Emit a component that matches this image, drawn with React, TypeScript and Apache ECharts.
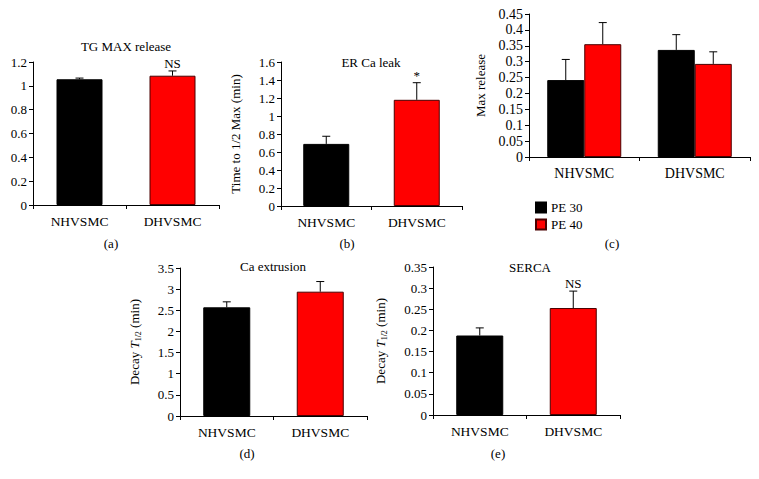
import React, { useEffect, useRef } from "react";
import * as echarts from "echarts";

const categories = ["NHVSMC", "DHVSMC"];
const tgMaxRelease = [1.055, 1.085];
const tgMaxReleaseErr = [0.01, 0.04];
const erCaLeak = [0.69, 1.18];
const erCaLeakErr = [0.085, 0.19];
const maxReleasePE30 = [0.242, 0.337];
const maxReleasePE30Err = [0.065, 0.048];
const maxReleasePE40 = [0.355, 0.293];
const maxReleasePE40Err = [0.068, 0.038];
const caExtrusion = [2.57, 2.94];
const caExtrusionErr = [0.13, 0.24];
const serca = [0.188, 0.253];
const sercaErr = [0.018, 0.04];
const sigA = ["", "NS"];
const sigB = ["", "*"];
const sigE = ["", "NS"];
const legendNames = ["PE 30", "PE 40"];

const FONT = "Liberation Serif";
const BLACK = "#000000";
const RED = "#ff0000";
const RED_BORDER = "#4a0000";

function errSeries(gi: number, vals: number[], errs: number[], offset: number, sig?: string[]) {
  return {
    type: "custom",
    xAxisIndex: gi,
    yAxisIndex: gi,
    z: 5,
    encode: { x: 0, y: [1, 2] },
    data: vals.map((v, i) => [i, v, v + errs[i]]),
    renderItem: (params: any, api: any) => {
      const x = api.value(0);
      const base = api.coord([x, api.value(1)]);
      const top = api.coord([x, api.value(2)]);
      const cx = base[0] + offset;
      const children: any[] = [
        { type: "line", shape: { x1: cx, y1: base[1], x2: cx, y2: top[1] }, style: { stroke: "#000", lineWidth: 1 } },
        { type: "line", shape: { x1: cx - 4, y1: top[1], x2: cx + 4, y2: top[1] }, style: { stroke: "#000", lineWidth: 1 } },
      ];
      const s = sig ? sig[params.dataIndex] : "";
      if (s) {
        children.push({
          type: "text",
          style: {
            text: s,
            x: cx,
            y: top[1] - 1,
            align: "center",
            verticalAlign: "bottom",
            fontSize: 13,
            fontFamily: FONT,
            fill: "#000",
          },
        });
      }
      return { type: "group", children };
    },
  };
}

function colored(vals: number[]) {
  return vals.map((v, i) => ({
    value: v,
    itemStyle: i === 0 ? { color: BLACK, borderColor: BLACK, borderWidth: 1 } : { color: RED, borderColor: RED_BORDER, borderWidth: 1 },
  }));
}

export default function App() {
  const ref = useRef<HTMLDivElement>(null);
  useEffect(() => {
    if (!ref.current) return;
    const chart = echarts.init(ref.current, null, { renderer: "svg" });
    const grids = [
      { left: 33, top: 62, width: 186, height: 143 },
      { left: 281, top: 62, width: 181, height: 144 },
      { left: 529, top: 14, width: 221, height: 143 },
      { left: 180, top: 268, width: 187, height: 148 },
      { left: 433, top: 267, width: 187, height: 148 },
    ];
    const yCfg = [
      { max: 1.2, interval: 0.2, name: "", gap: 0, fs: 13, cs: 13.5 },
      { max: 1.6, interval: 0.2, name: "Time to 1/2 Max (min)", gap: 39, fs: 13, cs: 13.5 },
      { max: 0.45, interval: 0.05, name: "Max release", gap: 42, fs: 14, cs: 14 },
      { max: 3.5, interval: 0.5, name: "{a|Decay }{b|T}{c|1/2}{a| (min)}", gap: 38, fs: 13, cs: 13.5 },
      { max: 0.35, interval: 0.05, name: "{a|Decay }{b|T}{c|1/2}{a| (min)}", gap: 45, fs: 13, cs: 13.5 },
    ];
    const richName = {
      a: { fontSize: 13, fontFamily: FONT, color: "#000", lineHeight: 16, verticalAlign: "middle" },
      b: { fontSize: 13, fontFamily: FONT, fontStyle: "italic", color: "#000", lineHeight: 16, verticalAlign: "middle" },
      c: { fontSize: 8, fontFamily: FONT, color: "#000", lineHeight: 16, verticalAlign: "bottom" },
    };
    const xAxis = grids.map((_, i) => ({
      type: "category",
      gridIndex: i,
      data: categories,
      axisLine: { show: true, lineStyle: { color: "#000", width: 1 } },
      axisTick: { show: true, length: 4, alignWithLabel: false, lineStyle: { color: "#000" } },
      axisLabel: { color: "#000", fontFamily: FONT, fontSize: yCfg[i].cs, margin: 9 },
    }));
    const yAxis = yCfg.map((c, i) => ({
      type: "value",
      gridIndex: i,
      min: 0,
      max: c.max,
      interval: c.interval,
      name: c.name,
      nameLocation: "middle",
      nameGap: c.gap,
      nameRotate: 90,
      nameTextStyle: { fontFamily: FONT, fontSize: 13, color: "#000", rich: richName },
      splitLine: { show: false },
      axisLine: { show: true, lineStyle: { color: "#000", width: 1 } },
      axisTick: { show: true, length: 4, lineStyle: { color: "#000" } },
      axisLabel: {
        color: "#000",
        fontFamily: FONT,
        fontSize: c.fs,
        margin: 6,
        formatter: (v: number) => String(+v.toFixed(2)),
      },
    }));
    const cBarW = 37;
    const series: any[] = [
      { type: "bar", name: "a", xAxisIndex: 0, yAxisIndex: 0, barWidth: 46, data: colored(tgMaxRelease) },
      errSeries(0, tgMaxRelease, tgMaxReleaseErr, 0, sigA),
      { type: "bar", name: "b", xAxisIndex: 1, yAxisIndex: 1, barWidth: 46, data: colored(erCaLeak) },
      errSeries(1, erCaLeak, erCaLeakErr, 0, sigB),
      {
        type: "bar",
        name: legendNames[0],
        xAxisIndex: 2,
        yAxisIndex: 2,
        barWidth: cBarW,
        barGap: "0%",
        itemStyle: { color: BLACK, borderColor: BLACK, borderWidth: 1 },
        data: maxReleasePE30,
      },
      {
        type: "bar",
        name: legendNames[1],
        xAxisIndex: 2,
        yAxisIndex: 2,
        barWidth: cBarW,
        barGap: "0%",
        itemStyle: { color: RED, borderColor: RED_BORDER, borderWidth: 1 },
        data: maxReleasePE40,
      },
      errSeries(2, maxReleasePE30, maxReleasePE30Err, -cBarW / 2),
      errSeries(2, maxReleasePE40, maxReleasePE40Err, cBarW / 2),
      { type: "bar", name: "d", xAxisIndex: 3, yAxisIndex: 3, barWidth: 47, data: colored(caExtrusion) },
      errSeries(3, caExtrusion, caExtrusionErr, 0),
      { type: "bar", name: "e", xAxisIndex: 4, yAxisIndex: 4, barWidth: 47, data: colored(serca) },
      errSeries(4, serca, sercaErr, 0, sigE),
    ];
    const txt = (text: string, x: number, y: number, size = 13) => ({
      type: "text",
      x,
      y,
      style: { text, fontFamily: FONT, fontSize: size, fill: "#000", align: "center", verticalAlign: "middle" },
    });
    chart.setOption({
      animation: false,
      backgroundColor: "#ffffff",
      grid: grids.map((g) => ({ ...g, containLabel: false })),
      xAxis,
      yAxis,
      series,
      legend: {
        data: legendNames,
        orient: "vertical",
        left: 530,
        top: 196,
        icon: "rect",
        itemWidth: 10,
        itemHeight: 10,
        itemGap: 4,
        textStyle: { fontFamily: FONT, fontSize: 13, color: "#000" },
        selectedMode: false,
      },
      graphic: [
        txt("TG MAX release", 126, 46),
        txt("ER Ca leak", 371, 62),
        txt("Ca extrusion", 273, 266),
        txt("SERCA", 530, 267),
        txt("(a)", 111, 243),
        txt("(b)", 347, 243),
        txt("(c)", 612, 243),
        txt("(d)", 247, 453),
        txt("(e)", 498, 453),
      ],
    });
    return () => chart.dispose();
  }, []);
  return <div ref={ref} style={{ position: "absolute", left: 0, top: 0, width: 759, height: 479 }} />;
}
